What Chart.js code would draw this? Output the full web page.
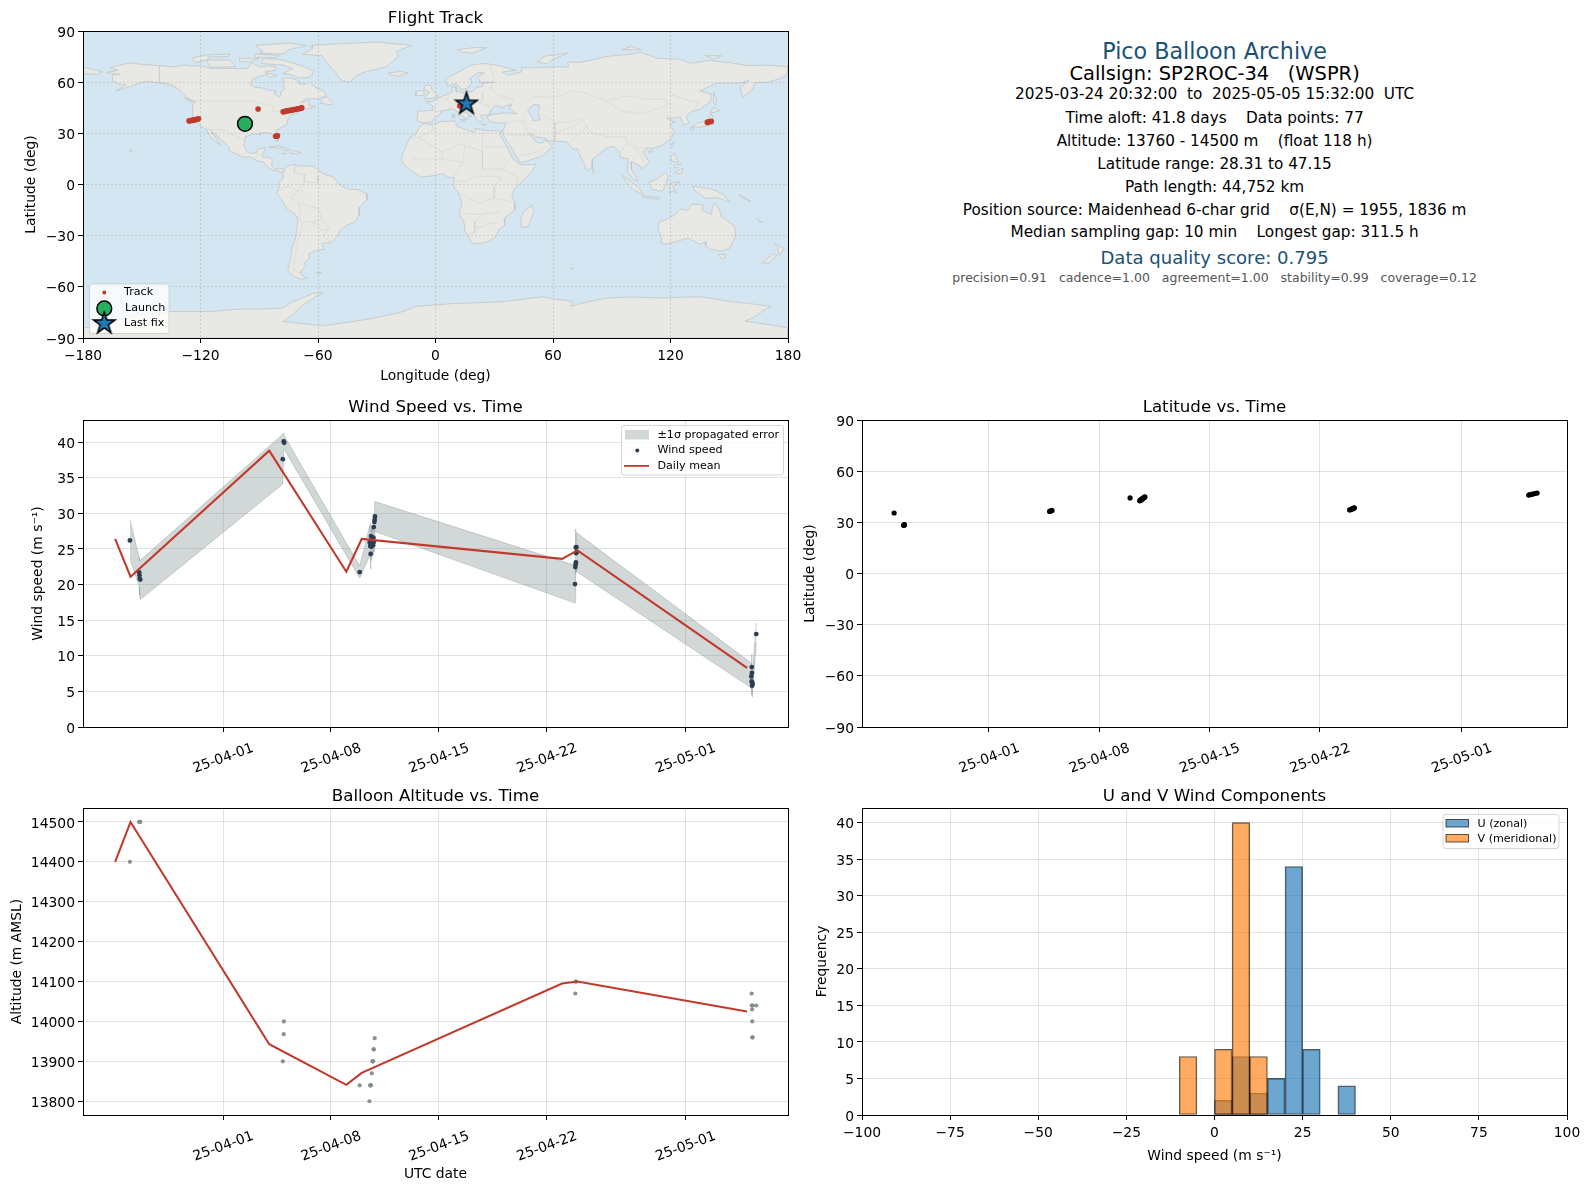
<!DOCTYPE html>
<html>
<head>
<meta charset="utf-8">
<title>Pico Balloon Archive</title>
<script src="https://cdn.jsdelivr.net/npm/chart.js@4/dist/chart.umd.min.js"></script>
<style>
  html,body{margin:0;padding:0;background:#fff;}
  #page{position:relative;width:1590px;height:1189px;overflow:hidden;font-family:"DejaVu Sans",sans-serif;}
  canvas{position:absolute;}
  .info{position:absolute;left:1214.6px;transform:translate(-50%,-50%);white-space:pre;color:#000;}
</style>
</head>
<body>
<div id="page"></div>
<script>
// x values on the time panels are days counted from 2025-03-24 00:00
const dateTickDays = [8,15,22,29,38];
const dateTickLabels = ['25-04-01','25-04-08','25-04-15','25-04-22','25-05-01'];

// wind speed points and the propagated error band
const windDays = [1.96,2.56,2.58,2.60,2.63,11.88,11.94,11.97,16.87,17.52,17.55,17.58,17.60,17.62,17.64,17.66,17.68,17.70,17.72,17.74,17.76,17.78,17.80,17.82,17.84,17.86,30.84,30.86,30.88,30.89,30.90,30.91,30.92,30.93,42.28,42.30,42.31,42.32,42.33,42.34,42.36,42.60];
const windSpeed = [26.2,21.7,21.3,20.8,20.7,37.6,40.1,39.9,21.75,25.9,25.4,24.3,26.8,25.3,26.2,25.6,26.5,25.9,26.4,25.5,26.6,28.07,26.0,28.77,29.1,29.56,20.07,22.45,22.8,25.2,23.1,24.4,24.5,25.25,7.1,6.4,8.42,7.58,5.8,6.26,6.0,13.05];
const windLow = [23.66,19.7,19.0,18.5,17.9,34.1,39.0,39.0,20.9,24.1,23.6,22.2,24.8,23.4,24.2,23.8,24.6,24.2,24.9,24.2,25.2,26.2,24.6,27.0,27.3,27.45,17.4,20.2,20.5,23.1,21.5,22.5,22.2,21.84,5.47,4.5,6.6,5.9,4.2,4.6,4.8,11.8];
const windHigh = [29.1,23.8,23.6,23.3,23.4,41.1,41.3,40.9,22.6,28.3,27.3,26.4,28.6,27.2,28.0,27.4,28.2,27.6,27.8,27.0,28.0,29.9,27.4,30.5,30.9,31.66,22.7,24.7,25.1,27.8,24.7,26.3,26.8,27.3,8.98,8.2,10.2,9.2,7.4,7.9,7.3,14.6];

// daily means
const meanDays = [1,2,11,16,17,30,31,42];
const meanWind = [26.4,21.1,38.8,21.8,26.4,23.6,24.8,8.3];
const meanAltitude = [14400,14500,13943,13841,13871,14095,14100,14025];

// altitude points
const altDays = [1.96,2.56,2.60,2.63,11.88,11.94,11.95,16.87,17.50,17.55,17.57,17.60,17.65,17.70,17.72,17.74,17.77,17.79,17.84,30.86,30.88,30.90,42.30,42.31,42.32,42.33,42.34,42.35,42.36,42.37,42.60];
const altValues = [14400,14500,14500,14500,13900,13968,14000,13840,13800,13840,13840,13840,13870,13900,13900,13900,13930,13930,13958,14070,14100,14100,14070,14040,14040,14030,14000,13960,13960,14040,14040];

// fixes: day, latitude, longitude
const fixDays = [1.98,2.58,2.60,2.62,2.64,11.85,11.90,11.95,12.00,16.96,17.57,17.60,17.62,17.65,17.67,17.70,17.72,17.75,17.77,17.80,17.82,17.85,17.87,17.90,30.90,30.95,31.00,31.04,31.08,31.12,31.16,31.20,42.27,42.35,42.45,42.55,42.65,42.80];
const fixLat = [35.47,28.3,28.4,28.5,28.6,36.4,36.6,36.8,37.0,44.3,42.6,42.8,43.0,43.2,43.3,43.5,43.7,43.9,44.0,44.2,44.4,44.5,44.7,44.9,37.3,37.5,37.6,37.8,37.9,38.1,38.3,38.5,46.0,46.2,46.4,46.6,46.9,47.15];
const fixLon = [-97.3,-81.6,-81.2,-81.0,-80.7,138.8,139.4,140.0,140.8,-90.6,-77.8,-77,-76.4,-75.5,-74.8,-74,-73.2,-72.4,-71.5,-70.8,-70,-69.3,-68.8,-68.3,-125.8,-125,-124.3,-123.6,-123,-122.4,-121.8,-121,12.4,12.8,13.2,13.7,14.3,15.0];
const launchPoint = [-97.3,35.6];
const lastFixPoint = [15.8,47.6];

// histogram
const histCentres = [-7.5,2.5,7.5,12.5,17.5,22.5,27.5,37.5];
const uCounts = [0,2,8,3,5,34,9,4];
const vCounts = [8,9,40,8,0,0,0,0];

// tick values
const lonTicks = [-180,-120,-60,0,60,120,180];
const latTicks = [-90,-60,-30,0,30,60,90];
const windTicks = [0,5,10,15,20,25,30,35,40];
const altTicks = [13800,13900,14000,14100,14200,14300,14400,14500];
const histXTicks = [-100,-75,-50,-25,0,25,50,75,100];
const histYTicks = [0,5,10,15,20,25,30,35,40];

// rough coastlines, lon/lat
const landPolygons = [
  // North America
  [[-168,65.6],[-164,66.5],[-162,67],[-166,68.5],[-163,69.5],[-156.5,71.3],[-150,70.5],[-141,69.7],[-135,69],[-128,70],[-125,69.5],[-120,69.5],[-115,68.2],[-108,68],[-100,68],[-96,68],[-94,71.5],[-90,69],[-85,69.5],[-81.5,69],[-82,67],[-87,66],[-86,64.5],[-90,63.5],[-93.5,61.5],[-94.8,59],[-92.5,57],[-88,56.5],[-85,55.3],[-82,55],[-82,53],[-80,51.2],[-79,52],[-79,54.5],[-76.8,56],[-78,58.5],[-77.5,60.5],[-78,62.4],[-73.5,62.3],[-70,61],[-69.5,59],[-66,58.8],[-64.5,60.3],[-61.5,57],[-57,54.5],[-55.7,52.2],[-60,50.3],[-66,50.2],[-69,48],[-65,49.2],[-64.5,47.8],[-65,46.5],[-61,45.8],[-66,44],[-67,45],[-70,43.7],[-70.5,41.8],[-74,40.6],[-75.5,38],[-76,35],[-78,33.8],[-81,32],[-81.5,30],[-80,26.5],[-80.4,25.2],[-81.8,26],[-82.8,28],[-84,30],[-86,30.4],[-89.5,30.2],[-89.5,29.2],[-93,29.7],[-97,28],[-97.5,25],[-97.8,22.5],[-96,19],[-94.5,18.2],[-91.5,18.5],[-90.5,21],[-87,21.5],[-87.8,18.5],[-88.5,16],[-85,15.9],[-83.3,15],[-83.7,11],[-82,9],[-79.5,9.5],[-77.3,8.7],[-77.8,7.2],[-80,7.3],[-80.5,8.2],[-83,8.3],[-85.7,10],[-87.5,13],[-91.5,14],[-94.5,16.2],[-98,16],[-102,18],[-105.5,20],[-105.5,22],[-109,26],[-112.5,29.5],[-114.8,31.7],[-112,27],[-110,23],[-112,24.8],[-115,28],[-117.2,32.5],[-120.5,34.5],[-122.5,37.8],[-124.3,40.3],[-124,46],[-122.7,48.5],[-127,51],[-130,54.5],[-133.5,57.5],[-138,59],[-144,60],[-148,60.5],[-152,59.2],[-157,57],[-163,54.8],[-158,58.5],[-162,59],[-165,61],[-165,64.2],[-161,64.5],[-168,65.6]],
  // Greenland and the Canadian islands
  [[-63,79.6],[-68,76.3],[-58,75.5],[-55,70.8],[-52,67],[-50.6,65],[-48,61],[-43.8,60],[-40,64],[-36,66],[-25,69],[-22,72],[-19,75],[-20,78],[-12,81.6],[-30,83.5],[-50,82.5],[-63,81.5],[-63,79.6]],
  [[-80,73.5],[-72,71],[-67,69],[-62,66.5],[-64,63],[-70,62.5],[-74,64.5],[-78,65],[-73,68],[-78,70],[-89,71],[-88,73.7],[-80,73.5]],
  [[-117,73],[-105,73],[-102,69],[-115,68.8],[-117,73]],
  [[-124,74.3],[-117,76],[-115,73.5],[-123,71.3],[-124,74.3]],
  [[-90,77],[-78,76.5],[-75,79],[-66,81.5],[-75,83],[-92,81.5],[-88,78],[-90,77]],
  [[-92,76.5],[-80,75.7],[-82,74.5],[-92,74.7],[-92,76.5]],
  [[-116,76],[-105,76.5],[-106,75],[-115,74.8],[-116,76]],
  [[-100,74],[-90,74],[-95,71.8],[-100,72],[-100,74]],
  [[-87,65.5],[-81,64],[-85,62.8],[-87,65.5]],
  [[-59,47.7],[-53,46.7],[-52.8,48],[-55.5,51.5],[-57.5,50.5],[-59,47.7]],
  [[-128,50.7],[-123.5,48.4],[-125,48.6],[-128,50.7]],
  // Caribbean, Hawaii
  [[-85,21.8],[-80,23],[-74.2,20.2],[-77.5,19.9],[-78.5,21.5],[-85,21.8]],
  [[-74.4,18.5],[-73,19.9],[-68.5,18.7],[-71,18],[-74.4,18.5]],
  [[-78.3,18.4],[-76.3,18.1],[-77.5,17.8],[-78.3,18.4]],
  [[-156,20.7],[-155,19.6],[-155.8,19],[-156,20.7]],
  // South America
  [[-77.3,8.7],[-75.5,10.8],[-72,12],[-71,11],[-68,11],[-62,10.7],[-60,8.5],[-57,6],[-52,4.5],[-50,1],[-48,-1],[-44,-2.8],[-40,-3],[-35.3,-5.3],[-35,-9],[-39,-13.5],[-39,-18],[-41,-22],[-45,-23.7],[-48.5,-26.5],[-50,-30],[-53.5,-34],[-58,-34.5],[-57,-38],[-62,-39],[-65,-41],[-64,-43],[-67,-46],[-66,-48],[-69,-51],[-68.5,-53],[-65.2,-54.8],[-69,-55.5],[-73,-53.5],[-75.5,-50],[-74,-44],[-73.5,-38],[-71.5,-32],[-70.3,-20],[-72,-17],[-76,-14],[-79,-8],[-81.2,-5],[-80,-2.5],[-80,1],[-77.5,4],[-77.8,7.2],[-77.3,8.7]],
  [[-61,-51.5],[-58,-51.5],[-59,-52.3],[-61,-51.5]],
  // Africa
  [[-5.9,35.8],[-2,35.1],[3,36.8],[10,37.3],[11,34],[15,32.4],[19.8,30.5],[20.5,32.8],[25,31.7],[31,31.4],[34,31.3],[32.6,30],[35.5,24],[37.3,20.5],[39.5,15],[43.2,12],[43.5,11.4],[51.2,11.9],[49,7],[44,1.5],[40,-3],[39,-6.5],[40.5,-11],[40.5,-15],[35,-20],[35.3,-24],[32.8,-26],[30.5,-31],[25.8,-34],[20,-34.8],[18.3,-33.5],[15,-27],[14.5,-22],[11.8,-17],[13.6,-11],[12,-5.5],[9,-0.8],[9.6,3.8],[6,4.3],[4,6.3],[-2,5],[-7.5,4.4],[-13,8.5],[-16.7,12.5],[-17.5,14.7],[-16,20],[-13,27.7],[-9.7,30],[-8.5,33.5],[-5.9,35.8]],
  [[49.3,-12],[50.3,-16],[47,-25],[44,-25],[43.5,-21],[44.5,-16.5],[49.3,-12]],
  // Eurasia, and its tip past the date line
  [[-9.5,38.7],[-8.9,43],[-1.5,43.5],[-1.2,46],[-4.7,48.4],[-1.5,48.7],[1.5,50.5],[4,52],[8.5,54],[8.2,57],[10.5,57.5],[10.5,54.5],[14,54],[19,54.5],[21,57],[24,57.5],[24,59.3],[30,60],[23,60],[21.3,63],[25,65.5],[22,65.7],[17.5,62],[18.5,60],[16.5,56.5],[13,55.5],[11,59],[6,58],[5,62],[12,66],[18,70],[25,71],[31,70],[41,67],[34,66],[37,64],[44,66],[44,68.5],[54,68.5],[60,69],[68,69],[67.5,72],[73,71.5],[80,73],[87,75],[100,76.5],[105,77.5],[113,74],[125,73.5],[130,71],[140,72.7],[150,71.5],[160,69.7],[170,70],[180,69],[180,65],[177,62.6],[170,60],[163,59.8],[162,56],[156.8,51],[155.7,57],[160,61],[155,59.4],[143,59.3],[135,54.7],[141,53],[140,48],[135,44],[131,42.8],[128,40],[129.5,36],[126.5,34.5],[126,37],[125,39.7],[121.5,39],[118,39],[120.8,37],[122.5,37],[119.5,35],[122,31],[121,28],[116,23],[110.5,21],[108,21.5],[106,19],[109.3,13],[105,8.8],[105,10.5],[100,13.5],[100,9],[103.5,2],[101,3],[98,8],[98.5,15],[94.5,16],[94,19],[91,22.5],[87,21],[80.3,15],[80,10],[77.5,8],[73,19],[72.5,21],[70,21],[67,25],[61,25.3],[57,25.7],[56.5,27],[51,28],[48,30],[50,26.5],[51.5,25],[54,24.2],[56.3,26],[59.8,22.5],[55,17],[45,13],[43,13],[39,21],[35,28],[34.3,31.3],[36,36],[32,36.2],[27.5,36.8],[26.3,40],[29,41],[35,42],[41.5,41.6],[37.5,44.8],[39,47],[35,46],[33.5,44.5],[32.8,46],[30,46],[28,43],[28,41.2],[26,40.8],[23,40.5],[24,38],[22.8,36.5],[21,38],[19.5,41],[19,42.5],[14,45.2],[12.3,45.3],[13,43.5],[18.5,40],[16.5,39.8],[16,38],[12,42],[8.8,44.4],[3.2,43.2],[3,41.8],[0,39.5],[-2,36.8],[-5.5,36],[-9,37],[-9.5,38.7]],
  [[-180,69],[-175,67.5],[-170,66],[-173,64.5],[-180,65],[-180,69]],
  // European and Arctic islands
  [[-5.5,50],[1.5,51.2],[0,53.5],[-2,56],[-2,57.7],[-5,58.6],[-6,56],[-3,54],[-5,52],[-5.5,50]],
  [[-10,52],[-6,52.2],[-5.8,54.8],[-8.5,55.2],[-10,54],[-10,52]],
  [[-24,65.5],[-18,66.3],[-14,65.5],[-19,63.4],[-22.7,64],[-24,65.5]],
  [[11,79],[20,80.3],[26,80.2],[19,77],[14,77.5],[11,79]],
  [[52,72],[56,75.3],[68,77],[60,73.5],[57,70.7],[52,72]],
  [[95,79],[105,79],[100,81],[95,79]],
  [[138,75.5],[146,75.5],[142,73.5],[138,75.5]],
  [[12.5,38],[15.5,38],[15,36.7],[12.5,38]],
  [[8.3,41],[9.7,41],[9.5,39],[8.5,39],[8.3,41]],
  [[23.5,35.5],[26.3,35.2],[24.5,34.9],[23.5,35.5]],
  // East Asia and the islands south of it
  [[142,54],[143.5,50],[143,46.5],[142,48],[142,54]],
  [[130.8,34],[135,33.5],[140,35],[141.8,39.5],[141,41.3],[139.8,39],[136.8,37],[132.5,35.5],[130.8,34]],
  [[140,41.6],[145.3,43.3],[142,45.3],[140,41.6]],
  [[130,33.5],[131.8,33],[130.5,31.2],[130,33.5]],
  [[120,23],[121.7,25],[120.8,22],[120,23]],
  [[108.7,19.2],[110.8,20],[110,18.4],[108.7,19.2]],
  [[120.3,16.5],[122,18.4],[124,13],[120.7,13.8],[120.3,16.5]],
  [[122,7],[126.5,9.5],[125.5,6],[122,7]],
  [[122,11.5],[125.5,12],[124,10],[122,10],[122,11.5]],
  [[109,1.5],[113,3],[117,7],[119,5],[117.8,1],[116,-4],[110.5,-3],[109,1.5]],
  [[95.3,5.5],[104,-2],[106,-5.8],[101,-3],[97,2],[95.3,5.5]],
  [[105.5,-6.5],[114.5,-7.7],[114,-8.7],[106,-7.5],[105.5,-6.5]],
  [[119.5,-5.5],[120,1],[125,1.5],[121,-1],[123,-5],[121,-3.5],[119.5,-5.5]],
  [[131,-1],[141,-2.5],[147,-6],[150.5,-10.5],[144,-7.7],[138,-8.2],[133,-4],[131,-1]],
  [[80,9.7],[81.8,7.5],[80.5,6],[80,9.7]],
  // Australia and New Zealand
  [[114,-22],[113.5,-26],[115.5,-32],[115,-34.3],[118,-35],[124,-33],[129,-31.5],[135,-35],[138,-33.5],[138,-35.5],[140,-38],[146,-39],[150,-37.5],[153,-31],[153,-25],[149,-21],[146,-19],[145,-15],[142.5,-10.8],[141.5,-13],[140.8,-17.5],[136,-15],[136.8,-12],[131,-11.5],[129,-15],[125,-14.5],[122,-18],[118,-20.3],[114,-22]],
  [[144.7,-41],[148,-41],[147.5,-43.5],[146,-43.5],[144.7,-41]],
  [[172.8,-34.5],[178.3,-37.8],[175.5,-41.5],[174.7,-37],[172.8,-34.5]],
  [[172.5,-40.6],[174.3,-41.7],[170.5,-46],[166.5,-46],[172.5,-40.6]],
  [[164,-20.2],[167,-22.3],[165.5,-21.9],[164,-20.2]],
  [[155,-6],[160,-9],[161,-10],[157,-8],[155,-6]],
  [[69,-49],[70.5,-49.2],[69.5,-49.8],[69,-49]],
  // Antarctica
  [[-180,-90],[-180,-84],[-170,-83],[-158,-78],[-150,-76.5],[-135,-74.5],[-115,-74.5],[-100,-73],[-88,-73],[-78,-72.4],[-72.7,-68.5],[-62,-63.7],[-57.6,-63.3],[-67,-69.9],[-72.7,-76.3],[-78,-80.3],[-58,-82.8],[-40,-80],[-30,-78],[-18,-75],[-10,-71.5],[9,-69.8],[30,-69],[40,-68],[54.7,-65.8],[60,-67],[70,-68.5],[69,-71.5],[75,-69.5],[88,-66.5],[100,-66],[115,-66.5],[135,-65.8],[150,-68.5],[165,-70.5],[171,-71.5],[167,-74],[164,-77],[158,-80],[180,-84],[180,-90],[-180,-90]]
];
const caspianSea = [[50,47],[53,46.5],[52.5,42],[53.5,38],[50,37.3],[49,40],[47,43.5],[50,47]];

// faint country borders
const borderLines = [
  [[-141,69.7],[-141,60.3],[-135,59],[-130,55]],
  [[-123,49],[-95,49],[-89,48],[-83,46],[-82.5,42.5],[-79,43],[-75,45],[-71,45],[-67.5,47],[-67,45]],
  [[-117,32.5],[-106.5,31.8],[-103,29],[-97.3,26]],
  [[-92,14.5],[-91,17.5],[-88.5,18]],
  [[-60,5],[-60,1],[-67,1.5],[-70,-4],[-74,-7.5],[-70,-11],[-60,-14],[-58,-20],[-54.5,-25.7],[-57.5,-30],[-53.5,-33.8]],
  [[-70,-18],[-68,-24],[-70,-32],[-71.5,-40],[-72.5,-50],[-68.6,-52.5]],
  [[-72,12],[-72,7],[-67,6],[-67,1.5]],
  [[-80.3,-3.5],[-75,-1],[-70,-4]],
  [[-70,-11],[-69,-17],[-70,-18]],
  [[-68,-22],[-62,-22],[-58,-20]],
  [[-62,-22],[-58,-27],[-54.5,-25.7]],
  [[-8.7,27.5],[-1,32],[-2,35.1]],
  [[-13,27.7],[-8.7,27.5],[-4.8,25],[3,19],[12,23.5],[15,23],[24,19.5],[24,31.5]],
  [[25,22],[36.8,22]],
  [[14,13],[15,23]],
  [[3,19],[4,15],[14,13],[9,4]],
  [[-12,15],[4,15]],
  [[24,19.5],[24,9],[34,9],[37,14.5]],
  [[34,9],[42,4],[41,-2]],
  [[34,4],[30,-1],[30,-8],[40,-10.5]],
  [[12,-5],[22,-11],[30,-8]],
  [[12,-17.3],[24,-17.5],[33,-16]],
  [[24,-17.5],[20,-22],[20,-28],[17,-29]],
  [[32,-23],[28,-22.5],[24,-25],[20,-25]],
  [[9,2],[16,2],[18,4],[27,5],[34,4]],
  [[-1.5,43.5],[3,42.5]],
  [[2.5,51],[6,49.5],[8,47.5],[7,44]],
  [[7,53.5],[6,49.5]],
  [[14,54],[15,51],[13,48.5],[10,47.5]],
  [[24,54],[24,50],[22.5,48],[28,45.5]],
  [[28,70],[30,62],[28,56],[32,52.5],[40,49.5],[38,47]],
  [[47,48],[50,51.5],[61,51],[70,55],[77,53.5],[87,49]],
  [[87,49],[98,52],[107,50],[117,50],[120,47]],
  [[120,53],[127,50],[135,48],[131,43]],
  [[87,49],[95,43],[105,41.5],[112,44],[120,47]],
  [[74,39],[80,30],[88,28],[97,28],[98,24],[102,21.5],[108,21.5]],
  [[44.5,39.5],[46,33],[48,30]],
  [[61,36],[61,25.3]],
  [[61,30],[70,34],[74,37]],
  [[68,24],[74,30],[78,35]],
  [[36,36.5],[44.5,37.5]],
  [[36,29],[48,29]],
  [[43,17],[52,19],[55,22]],
  [[54,42],[61,36],[70,37],[74,39]],
  [[98,24],[94,19]],
  [[102,21.5],[105,17],[107,12]]
];

const infoLines = [
  ['Pico Balloon Archive', 50.7, 22.22, '#1a5276'],
  ['Callsign: SP2ROC-34   (WSPR)', 73, 19.44, '#000'],
  ['2025-03-24 20:32:00  to  2025-05-05 15:32:00  UTC', 94.3, 15.28, '#000'],
  ['Time aloft: 41.8 days    Data points: 77', 117.6, 15.28, '#000'],
  ['Altitude: 13760 - 14500 m    (float 118 h)', 140.6, 15.28, '#000'],
  ['Latitude range: 28.31 to 47.15', 163.6, 15.28, '#000'],
  ['Path length: 44,752 km', 186.6, 15.28, '#000'],
  ['Position source: Maidenhead 6-char grid    σ(E,N) = 1955, 1836 m', 210, 15.28, '#000'],
  ['Median sampling gap: 10 min    Longest gap: 311.5 h', 232.2, 15.28, '#000'],
  ['Data quality score: 0.795', 256.6, 18.06, '#1a5276'],
  ['precision=0.91   cadence=1.00   agreement=1.00   stability=0.99   coverage=0.12', 276.8, 12.5, '#555']
];

Chart.defaults.font.family = '"DejaVu Sans"';
Chart.defaults.font.size = 13.89;
Chart.defaults.color = '#000';
Chart.defaults.animation = false;

const page = document.getElementById('page');
const OCEAN = '#d4e6f1', LAND = '#e8e8e4', COAST = '#c2c5c5', RED = '#c0392b', NAVY = '#2c3e50';
const GRID = 'rgba(176,176,176,0.36)';
const BAND = 'rgba(127,140,141,0.35)';

function pairs(xs, ys){ return xs.map((x,i)=>({x:x,y:ys[i]})); }
function lonLat(list){ return list.map(p=>({x:p[0],y:p[1]})); }
function minus(v){ return String(v).replace('-','\u2212'); }

function makeCanvas(left, top, width, height){
  const c = document.createElement('canvas');
  c.width = width; c.height = height;
  c.style.left = left+'px'; c.style.top = top+'px';
  c.style.width = width+'px'; c.style.height = height+'px';
  page.appendChild(c);
  return c;
}

// star marker, Chart.js 'star' is only an asterisk
function makeStar(){
  const c = document.createElement('canvas');
  c.width = 26; c.height = 26;
  const g = c.getContext('2d');
  g.beginPath();
  for(let i=0;i<10;i++){
    const r = i%2 ? 4.4 : 11.4;
    const a = -Math.PI/2 + i*Math.PI/5;
    const px = 13 + r*Math.cos(a), py = 13.5 + r*Math.sin(a);
    if(i) g.lineTo(px,py); else g.moveTo(px,py);
  }
  g.closePath();
  g.fillStyle = '#1f77b4'; g.fill();
  g.lineWidth = 1.5; g.strokeStyle = '#000'; g.stroke();
  return c;
}
const starMark = makeStar();

// black box round the axes
const framePlugin = {
  id:'frame',
  afterDraw(chart){
    const a = chart.chartArea, ctx = chart.ctx;
    ctx.save();
    ctx.strokeStyle = '#000'; ctx.lineWidth = 1;
    ctx.strokeRect(Math.round(a.left)+0.5, Math.round(a.top)+0.5, Math.round(a.right-a.left), Math.round(a.bottom-a.top));
    ctx.restore();
  }
};
const oceanPlugin = {
  id:'ocean',
  beforeDatasetsDraw(chart){
    const a = chart.chartArea, ctx = chart.ctx;
    ctx.save(); ctx.fillStyle = OCEAN;
    ctx.fillRect(a.left, a.top, a.right-a.left, a.bottom-a.top);
    ctx.restore();
  }
};

// legend box in the matplotlib look; rect and rows are page pixels
function legendPlugin(rect, rows){
  return {
    id:'boxLegend',
    afterDraw(chart){
      const ctx = chart.ctx, ox = chart.canvas.offsetLeft, oy = chart.canvas.offsetTop;
      ctx.save();
      ctx.translate(-ox,-oy);
      ctx.beginPath();
      ctx.roundRect(rect[0],rect[1],rect[2],rect[3],2.5);
      ctx.fillStyle = 'rgba(255,255,255,0.8)'; ctx.fill();
      ctx.strokeStyle = 'rgba(204,204,204,0.8)'; ctx.lineWidth = 1; ctx.stroke();
      ctx.font = '11.11px "DejaVu Sans"';
      ctx.textBaseline = 'middle'; ctx.textAlign = 'left';
      rows.forEach(r=>{
        ctx.fillStyle = '#000';
        ctx.fillText(r.label, r.tx, r.ty);
        r.mark(ctx, r);
      });
      ctx.restore();
    }
  };
}
function dotMark(color, radius, edge){
  return (ctx,r)=>{
    ctx.beginPath(); ctx.arc(r.mx, r.my, radius, 0, Math.PI*2);
    ctx.fillStyle = color; ctx.fill();
    if(edge){ ctx.strokeStyle = '#000'; ctx.lineWidth = 1.5; ctx.stroke(); }
  };
}
function patchMark(fill, edge){
  return (ctx,r)=>{
    ctx.fillStyle = fill; ctx.fillRect(r.mx, r.my, r.mw, r.mh);
    if(edge){ ctx.strokeStyle = edge; ctx.lineWidth = 1; ctx.strokeRect(r.mx, r.my, r.mw, r.mh); }
  };
}

// axis with ticks fixed to a list and a fixed outer size
function axis(o){
  const horizontal = o.size.height !== undefined;
  return {
    type:'linear', min:o.min, max:o.max, offset:false,
    afterBuildTicks(s){ s.ticks = o.ticks.map(v=>({value:v})); },
    afterFit(s){ if(horizontal) s.height = o.size.height; else s.width = o.size.width; },
    border:{display:false, dash:o.dash||[]},
    grid:{color:o.gridColor||GRID, lineWidth:1, offset:false, tickColor:'#000', tickLength:5, tickWidth:1, tickBorderDash:[], z:o.gridZ||0},
    ticks:{autoSkip:false, padding:o.tickPad===undefined?(horizontal?5:3):o.tickPad, maxRotation:o.rot||0, minRotation:o.rot||0,
           labelOffset:o.labelOffset===undefined?(horizontal?0:2):o.labelOffset, callback:o.label||minus},
    title:{display:!!o.title, text:o.title||'', font:{size:13.89}, padding:o.titlePad||0, color:'#000'}
  };
}
function dateAxis(min, max, height, title, titlePad){
  return axis({min:min, max:max, ticks:dateTickDays, size:{height:height}, rot:20, labelOffset:30, tickPad:8,
    label:v=>dateTickLabels[dateTickDays.indexOf(v)], title:title, titlePad:titlePad});
}
function titleOpts(text, top, bottom){
  return {display:true, fullSize:false, text:text, font:{size:16.67, weight:'normal'}, color:'#000', padding:{top:top,bottom:bottom}};
}
function baseOptions(title, scales, right){
  return {
    responsive:false, devicePixelRatio:1, animation:false,
    events:[],
    layout:{autoPadding:false, padding:{left:0,top:0,bottom:0,right:right}},
    plugins:{legend:{display:false}, tooltip:{enabled:false}, title:title},
    scales:scales
  };
}

// ---- flight track map
const mapSets = [
  {label:'Last fix', data:[{x:lastFixPoint[0],y:lastFixPoint[1]}], showLine:false, pointStyle:starMark},
  {label:'Launch', data:[{x:launchPoint[0],y:launchPoint[1]}], showLine:false, pointRadius:7.4, backgroundColor:'#27ae60', borderColor:'#000', borderWidth:1.5},
  {label:'Track', data:pairs(fixLon,fixLat), showLine:false, pointRadius:2.8, backgroundColor:RED, borderWidth:0},
  {data:lonLat(caspianSea), fill:'shape', backgroundColor:OCEAN, borderColor:COAST, borderWidth:0.8, pointRadius:0, tension:0}
];
borderLines.forEach(b=>mapSets.push({data:lonLat(b), fill:false, borderColor:'rgba(205,205,200,0.75)', borderWidth:0.6, pointRadius:0, tension:0}));
landPolygons.forEach(p=>mapSets.push({data:lonLat(p), fill:'shape', backgroundColor:LAND, borderColor:COAST, borderWidth:0.8, pointRadius:0, tension:0}));

new Chart(makeCanvas(0,0,830,385), {
  type:'line',
  data:{datasets:mapSets},
  options:baseOptions(titleOpts('Flight Track',8.5,2.5), {
    x:axis({min:-180,max:180,ticks:lonTicks,size:{height:47},dash:[2,2],gridZ:1,title:'Longitude (deg)',titlePad:{bottom:0},gridColor:'rgba(140,140,140,0.3)'}),
    y:axis({min:-90,max:90,ticks:latTicks,size:{width:83},dash:[2,2],gridZ:1,title:'Latitude (deg)',titlePad:{top:22.7},gridColor:'rgba(140,140,140,0.3)'})
  },42),
  plugins:[oceanPlugin, framePlugin, legendPlugin([89.5,284,79.5,49.5],[
    {label:'Track',tx:124,ty:292.5,mx:104.3,my:292.5,mark:dotMark(RED,2)},
    {label:'Launch',tx:125,ty:308.5,mx:104.3,my:308.5,mark:dotMark('#27ae60',7.4,true)},
    {label:'Last fix',tx:124,ty:323.5,mx:104.3,my:323.5,mark:(ctx,r)=>ctx.drawImage(starMark,r.mx-13,r.my-13.5)}
  ])]
});

// ---- wind speed
new Chart(makeCanvas(0,385,830,420), {
  type:'line',
  data:{datasets:[
    {label:'Daily mean', data:pairs(meanDays,meanWind), borderColor:RED, borderWidth:2.08, pointRadius:0, tension:0, fill:false},
    {label:'Wind speed', data:pairs(windDays,windSpeed), showLine:false, pointRadius:2.4, backgroundColor:NAVY, borderWidth:0},
    {data:pairs(windDays,windHigh), borderColor:BAND, borderWidth:1, pointRadius:0, tension:0, backgroundColor:BAND, fill:'+1'},
    {data:pairs(windDays,windLow), borderColor:BAND, borderWidth:1, pointRadius:0, tension:0, fill:false}
  ]},
  options:baseOptions(titleOpts('Wind Speed vs. Time',12.4,2.6), {
    x:dateAxis(-1.085,44.66,78),
    y:axis({min:0,max:43.1,ticks:windTicks,size:{width:83},title:'Wind speed (m s\u207B\u00B9)',titlePad:{top:30.2}})
  },42),
  plugins:[framePlugin, legendPlugin([621.5,425.5,162,49.5],[
    {label:'\u00B11\u03C3 propagated error',tx:657.5,ty:435.5,mx:625,my:430,mw:24,mh:9.5,mark:patchMark(BAND)},
    {label:'Wind speed',tx:657.5,ty:450.5,mx:637.3,my:450.5,mark:dotMark(NAVY,2)},
    {label:'Daily mean',tx:657.5,ty:466,mx:624,my:465,mw:25,mh:1.8,mark:patchMark(RED)}
  ])]
});

// ---- latitude
new Chart(makeCanvas(795,385,795,420), {
  type:'line',
  data:{datasets:[
    {data:pairs(fixDays,fixLat), showLine:false, pointRadius:2.6, backgroundColor:'#000', borderWidth:0}
  ]},
  options:baseOptions(titleOpts('Latitude vs. Time',12.4,2.6), {
    x:dateAxis(-0.06,44.7,78),
    y:axis({min:-90,max:90,ticks:latTicks,size:{width:67},title:'Latitude (deg)',titlePad:{top:7}})
  },23),
  plugins:[framePlugin]
});

// ---- altitude
new Chart(makeCanvas(0,772,830,417), {
  type:'line',
  data:{datasets:[
    {label:'Daily mean', data:pairs(meanDays,meanAltitude), borderColor:RED, borderWidth:2.08, pointRadius:0, tension:0, fill:false},
    {data:pairs(altDays,altValues), showLine:false, pointRadius:2.1, backgroundColor:'rgba(127,140,141,0.95)', borderWidth:0}
  ]},
  options:baseOptions(titleOpts('Balloon Altitude vs. Time',14.5,1.5), {
    x:dateAxis(-1.085,44.66,74,'UTC date',{bottom:6.5}),
    y:axis({min:13765.5,max:14535,ticks:altTicks,size:{width:83},title:'Altitude (m AMSL)',titlePad:{top:8.7}})
  },42),
  plugins:[framePlugin]
});

// ---- U and V histogram
function histData(counts){
  return pairs(histCentres,counts).filter(p=>p.y>0);
}
new Chart(makeCanvas(795,772,795,417), {
  type:'bar',
  data:{datasets:[
    {label:'U (zonal)', data:histData(uCounts), order:2, backgroundColor:'rgba(31,119,180,0.65)', borderColor:'rgba(0,0,0,0.65)', borderWidth:1, borderSkipped:false, barThickness:17.6, grouped:false},
    {label:'V (meridional)', data:histData(vCounts), order:1, backgroundColor:'rgba(255,127,14,0.65)', borderColor:'rgba(0,0,0,0.65)', borderWidth:1, borderSkipped:false, barThickness:17.6, grouped:false}
  ]},
  options:baseOptions(titleOpts('U and V Wind Components',14.5,1.5), {
    x:axis({min:-100,max:100,ticks:histXTicks,size:{height:74},title:'Wind speed (m s\u207B\u00B9)',titlePad:{bottom:24.7}}),
    y:axis({min:0,max:42,ticks:histYTicks,size:{width:67},title:'Frequency',titlePad:{top:19}})
  },23),
  plugins:[framePlugin, legendPlugin([1443,814.5,116,34],[
    {label:'U (zonal)',tx:1477.5,ty:824,mx:1446,my:819.5,mw:22.5,mh:7.5,mark:patchMark('rgba(31,119,180,0.65)','rgba(0,0,0,0.65)')},
    {label:'V (meridional)',tx:1477.5,ty:839,mx:1446,my:834.5,mw:22.5,mh:7.5,mark:patchMark('rgba(255,127,14,0.65)','rgba(0,0,0,0.65)')}
  ])]
});

// ---- text block top right
infoLines.forEach(l=>{
  const d = document.createElement('div');
  d.className = 'info';
  d.textContent = l[0];
  d.style.top = l[1]+'px';
  d.style.fontSize = l[2]+'px';
  d.style.color = l[3];
  page.appendChild(d);
});
</script>
</body>
</html>
